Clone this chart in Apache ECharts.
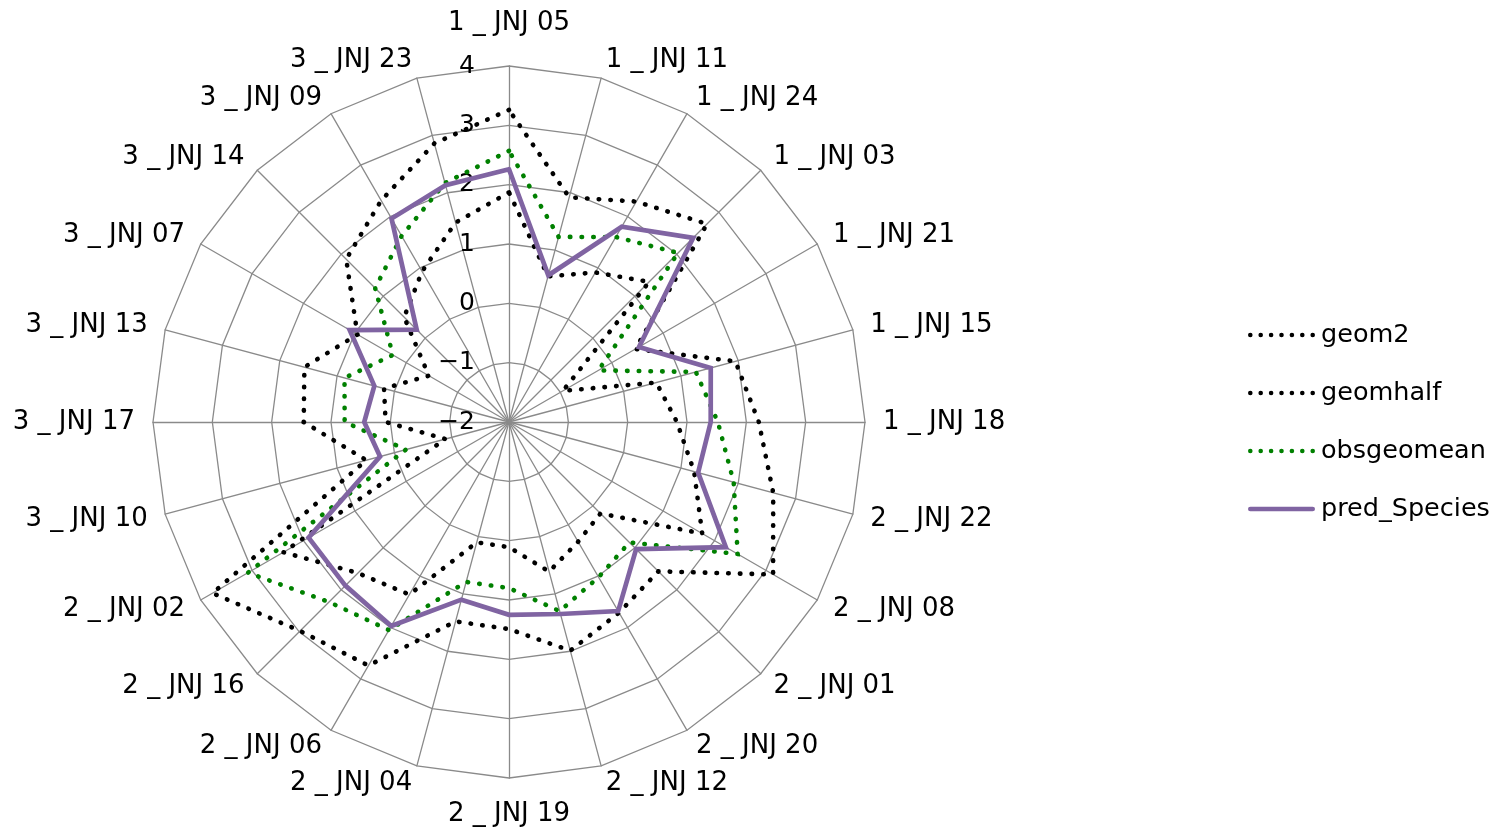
<!DOCTYPE html>
<html><head><meta charset="utf-8">
<script src="https://cdn.jsdelivr.net/npm/echarts@6/dist/echarts.min.js"></script>
<style>html,body{margin:0;padding:0;background:#fff}#chart{width:1501px;height:828px}</style>
</head><body><div id="chart"></div>
<script>
// Categories listed clockwise starting at the top
const categories = [
  "1 _ JNJ 05","1 _ JNJ 11","1 _ JNJ 24","1 _ JNJ 03","1 _ JNJ 21","1 _ JNJ 15",
  "1 _ JNJ 18","2 _ JNJ 22","2 _ JNJ 08","2 _ JNJ 01","2 _ JNJ 20","2 _ JNJ 12",
  "2 _ JNJ 19","2 _ JNJ 04","2 _ JNJ 06","2 _ JNJ 16","2 _ JNJ 02","3 _ JNJ 10",
  "3 _ JNJ 17","3 _ JNJ 13","3 _ JNJ 07","3 _ JNJ 14","3 _ JNJ 09","3 _ JNJ 23"
];
const geom2 = [3.26,1.92,2.29,2.72,0.46,1.95,2.21,2.61,3.14,1.56,1.71,1.99,
               1.49,1.48,2.74,2.98,3.77,0.49,1.46,1.57,0.95,1.88,2.31,2.86];
const geomhalf = [1.87,0.54,0.91,1.34,-0.95,0.57,0.83,1.23,1.76,0.18,0.33,0.61,
                  0.11,0.10,1.36,1.60,2.39,-0.89,0.08,0.18,-0.44,0.50,0.93,1.48];
const obsgeomean = [2.57,1.23,1.60,2.03,-0.26,1.26,1.52,1.92,2.45,0.87,1.02,1.30,
                    0.80,0.79,2.05,2.29,3.08,-0.20,0.77,0.87,0.26,1.19,1.62,2.17];
const predSpecies = [2.26,0.56,1.80,2.39,0.53,1.52,1.40,1.30,2.22,1.03,1.68,1.35,
                     1.25,1.10,1.97,1.90,1.90,0.25,0.44,0.35,1.10,0.20,1.96,2.13];
const seriesNames = ["geom2","geomhalf","obsgeomean","pred_Species"];
const axisMin = -2, axisMax = 4, axisSplits = 6;

const FONT = "DejaVu Sans";
// ECharts radar runs counter-clockwise: reorder so categories run clockwise
const order = categories.map((_, k) => (k === 0 ? 0 : categories.length - k));
const reorder = arr => order.map(i => arr[i]);

const indicator = order.map((i, k) => ({
  name: categories[i], min: axisMin, max: axisMax,
  axisLabel: { show: k === 0 }
}));

const dotPath = (function () {
  let p = "path://";
  for (let k = 0; k < 7; k++) {
    const x = k * 10.4;
    p += "M" + x + ",2.3a2.3,2.3 0 1,0 4.6,0a2.3,2.3 0 1,0 -4.6,0z";
  }
  return p;
})();
const solidPath = "path://M2.35,0H64.65A2.35,2.35 0 0 1 64.65,4.7H2.35A2.35,2.35 0 0 1 2.35,0Z";

const dotted = [0.5, 11.2];
const styles = {
  geom2: { color: "#000000", type: dotted, width: 4.6 },
  geomhalf: { color: "#000000", type: dotted, width: 4.6 },
  obsgeomean: { color: "#008000", type: dotted, width: 4.6 },
  pred_Species: { color: "#8064A2", type: "solid", width: 4.7 }
};
const values = { geom2, geomhalf, obsgeomean, pred_Species: predSpecies };
const topName = categories[0];
const bottomName = categories[categories.length / 2];

const chart = echarts.init(document.getElementById("chart"), null, { renderer: "canvas" });
chart.setOption({
  backgroundColor: "#ffffff",
  animation: false,
  textStyle: { fontFamily: FONT },
  legend: {
    orient: "vertical", left: 1243, top: 317,
    itemWidth: 67, itemHeight: 5, itemGap: 32,
    textStyle: { fontFamily: FONT, fontSize: 25.5, color: "#000", lineHeight: 25, padding: [0, 0, 0, 1] },
    data: seriesNames.map(n => ({
      name: n,
      icon: n === "pred_Species" ? solidPath : dotPath,
      itemStyle: { color: styles[n].color }
    }))
  },
  radar: {
    center: [509, 422],
    radius: 356,
    startAngle: 90,
    shape: "polygon",
    splitNumber: axisSplits,
    nameGap: 18,
    indicator: indicator,
    axisName: {
      color: "#000", fontSize: 26, fontFamily: FONT,
      formatter: function (name) {
        if (name === topName) return "{t|" + name + "}";
        if (name === bottomName) return "{b|" + name + "}";
        return name;
      },
      rich: {
        t: { fontSize: 26, fontFamily: FONT, color: "#000", padding: [0, 0, 12, 0] },
        b: { fontSize: 26, fontFamily: FONT, color: "#000", padding: [5, 0, 0, 0] }
      }
    },
    axisLine: { show: true, lineStyle: { color: "#8a8a8a", width: 1.3 } },
    splitLine: { show: true, lineStyle: { color: "#8a8a8a", width: 1.3 } },
    splitArea: { show: false },
    axisTick: { show: false },
    axisLabel: {
      show: true, margin: 34, color: "#000", fontSize: 25, fontFamily: FONT,
      formatter: v => String(v).replace("-", "\u2212")
    }
  },
  series: [{
    type: "radar",
    symbol: "none",
    data: seriesNames.map(n => ({
      name: n,
      value: reorder(values[n]),
      itemStyle: { color: styles[n].color },
      lineStyle: { color: styles[n].color, type: styles[n].type, width: styles[n].width, cap: "round", join: "miter" },
      areaStyle: null
    }))
  }]
});
</script>
</body></html>
